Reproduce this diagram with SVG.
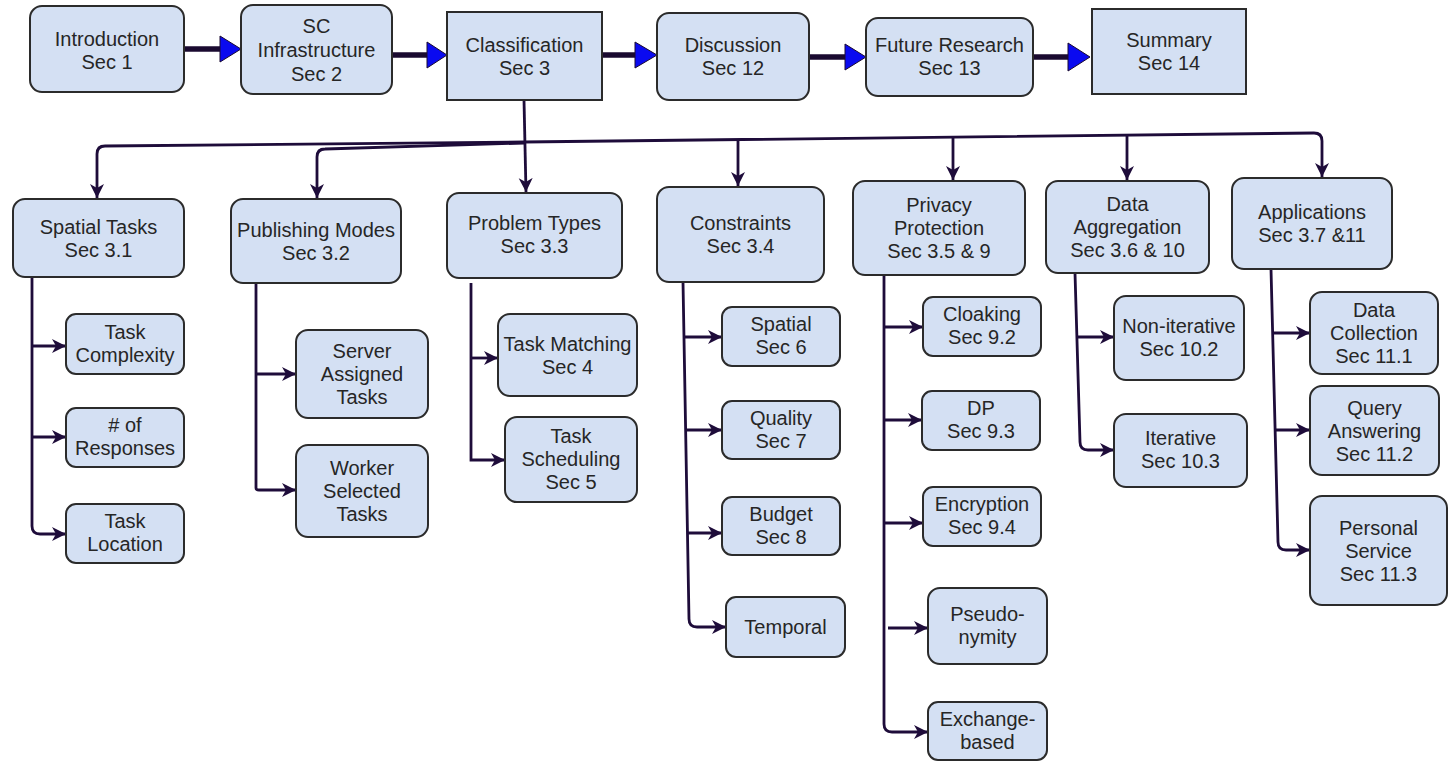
<svg xmlns="http://www.w3.org/2000/svg" width="1450" height="763" viewBox="0 0 1450 763">
<defs>
<marker id="ah" markerUnits="userSpaceOnUse" markerWidth="16" markerHeight="16" refX="14" refY="8" orient="auto">
<path d="M0,1 L14,8 L0,15 L4,8 z" fill="#1e0c3a"/>
</marker>
</defs>
<style>
.n{fill:#d4e0f3;stroke:#2b2b2b;stroke-width:2}
.t{font-family:"Liberation Sans",Arial,sans-serif;font-size:20px;fill:#262626;text-anchor:middle}
.c{fill:none;stroke:#1e0c3a;stroke-width:2.8;marker-end:url(#ah)}
.m{stroke:#1a0a30;stroke-width:5.5}
.h{fill:#0a0af0;stroke:#1a0a30;stroke-width:1}
</style>
<rect width="1450" height="763" fill="#ffffff"/>

<g id="connectors">
<line class="m" x1="184" y1="49" x2="222" y2="49"/><polygon class="h" points="220,36 241,49 220,62"/>
<line class="m" x1="392" y1="55" x2="429" y2="55"/><polygon class="h" points="427,42 447,55 427,68"/>
<line class="m" x1="602" y1="55" x2="637" y2="55"/><polygon class="h" points="635,42 657,55 635,68"/>
<line class="m" x1="809" y1="57" x2="847" y2="57"/><polygon class="h" points="845,44 866,57 845,70"/>
<line class="m" x1="1033" y1="57" x2="1070" y2="57"/><polygon class="h" points="1068,43 1090,57 1068,71"/>
<path class="c" d="M524,100 L526,192"/>
<path class="c" d="M524,142 L105,146 Q97,146 97,154 L97,198"/>
<path class="c" d="M524,143 L325,149 Q317,149 317,157 L317,198"/>
<path class="c" d="M524,142 L1314,133 Q1322,133 1322,141 L1322,177"/>
<path class="c" d="M738,140 L738,186"/>
<path class="c" d="M953,137 L953,180"/>
<path class="c" d="M1127,135 L1127,180"/>
<path class="c" d="M32,277 L32,526 Q32,534 40,534 L66,534"/>
<path class="c" d="M32,346 L66,346"/>
<path class="c" d="M32,437 L66,437"/>
<path class="c" d="M256,283 L256,488 Q256,490 259,490 L296,490"/>
<path class="c" d="M256,374 L296,374"/>
<path class="c" d="M471,283 L471,460 L505,460"/>
<path class="c" d="M471,358 L498,358"/>
<path class="c" d="M683,282 L689,619 Q689,627 697,627 L726,627"/>
<path class="c" d="M684,337 L722,337"/>
<path class="c" d="M685,430 L722,430"/>
<path class="c" d="M687,533 L722,533"/>
<path class="c" d="M884,275 L884,724 Q884,732 892,732 L928,732"/>
<path class="c" d="M884,327 L923,327"/>
<path class="c" d="M884,420 L922,420"/>
<path class="c" d="M884,523 L923,523"/>
<path class="c" d="M888,628 L928,628"/>
<path class="c" d="M1075,273 L1080,442 Q1080,450 1088,450 L1114,450"/>
<path class="c" d="M1077,337 L1114,337"/>
<path class="c" d="M1271,269 L1278,542 Q1278,550 1286,550 L1310,550"/>
<path class="c" d="M1273,333 L1310,333"/>
<path class="c" d="M1275,430 L1310,430"/>
</g>

<g id="n-introduction"><rect class="n" x="30" y="6" width="154" height="86" rx="12"/>
<text class="t"><tspan x="107" y="45.5">Introduction</tspan><tspan x="107" y="68.5">Sec 1</tspan></text></g>
<g id="n-sc-infrastructure"><rect class="n" x="241" y="5" width="151" height="89" rx="12"/>
<text class="t"><tspan x="316.5" y="33">SC</tspan><tspan x="316.5" y="57">Infrastructure</tspan><tspan x="316.5" y="81">Sec 2</tspan></text></g>
<g id="n-classification"><rect class="n" x="447" y="12" width="155" height="88"/>
<text class="t"><tspan x="524.5" y="52">Classification</tspan><tspan x="524.5" y="75">Sec 3</tspan></text></g>
<g id="n-discussion"><rect class="n" x="657" y="13" width="152" height="87" rx="12"/>
<text class="t"><tspan x="733" y="52">Discussion</tspan><tspan x="733" y="75">Sec 12</tspan></text></g>
<g id="n-future-research"><rect class="n" x="866" y="18" width="167" height="78" rx="12"/>
<text class="t"><tspan x="949.5" y="52">Future Research</tspan><tspan x="949.5" y="75">Sec 13</tspan></text></g>
<g id="n-summary"><rect class="n" x="1092" y="9" width="154" height="85"/>
<text class="t"><tspan x="1169" y="47">Summary</tspan><tspan x="1169" y="70">Sec 14</tspan></text></g>

<g id="n-spatial-tasks"><rect class="n" x="13" y="199" width="171" height="78" rx="12"/>
<text class="t"><tspan x="98.5" y="233.5">Spatial Tasks</tspan><tspan x="98.5" y="256.5">Sec 3.1</tspan></text></g>
<g id="n-publishing-modes"><rect class="n" x="231" y="199" width="170" height="84" rx="12"/>
<text class="t"><tspan x="316" y="236.5">Publishing Modes</tspan><tspan x="316" y="259.5">Sec 3.2</tspan></text></g>
<g id="n-problem-types"><rect class="n" x="447" y="193" width="175" height="85" rx="12"/>
<text class="t"><tspan x="534.5" y="230">Problem Types</tspan><tspan x="534.5" y="253">Sec 3.3</tspan></text></g>
<g id="n-constraints"><rect class="n" x="657" y="187" width="167" height="95" rx="12"/>
<text class="t"><tspan x="740.5" y="230">Constraints</tspan><tspan x="740.5" y="253">Sec 3.4</tspan></text></g>
<g id="n-privacy"><rect class="n" x="853" y="181" width="172" height="94" rx="12"/>
<text class="t"><tspan x="939" y="212">Privacy</tspan><tspan x="939" y="235">Protection</tspan><tspan x="939" y="258">Sec 3.5 &amp; 9</tspan></text></g>
<g id="n-data-aggregation"><rect class="n" x="1046" y="181" width="163" height="92" rx="12"/>
<text class="t"><tspan x="1127.5" y="211">Data</tspan><tspan x="1127.5" y="234">Aggregation</tspan><tspan x="1127.5" y="257">Sec 3.6 &amp; 10</tspan></text></g>
<g id="n-applications"><rect class="n" x="1232" y="178" width="160" height="91" rx="12"/>
<text class="t"><tspan x="1312" y="219">Applications</tspan><tspan x="1312" y="242">Sec 3.7 &amp;11</tspan></text></g>

<g id="n-task-complexity"><rect class="n" x="66" y="314" width="118" height="60" rx="10"/>
<text class="t"><tspan x="125" y="339">Task</tspan><tspan x="125" y="362">Complexity</tspan></text></g>
<g id="n-responses"><rect class="n" x="66" y="408" width="118" height="59" rx="10"/>
<text class="t"><tspan x="125" y="432">&#35; of</tspan><tspan x="125" y="455">Responses</tspan></text></g>
<g id="n-task-location"><rect class="n" x="66" y="504" width="118" height="59" rx="10"/>
<text class="t"><tspan x="125" y="528">Task</tspan><tspan x="125" y="551">Location</tspan></text></g>
<g id="n-server-assigned"><rect class="n" x="296" y="330" width="132" height="88" rx="12"/>
<text class="t"><tspan x="362" y="358">Server</tspan><tspan x="362" y="381">Assigned</tspan><tspan x="362" y="404">Tasks</tspan></text></g>
<g id="n-worker-selected"><rect class="n" x="296" y="445" width="132" height="92" rx="12"/>
<text class="t"><tspan x="362" y="475">Worker</tspan><tspan x="362" y="498">Selected</tspan><tspan x="362" y="521">Tasks</tspan></text></g>
<g id="n-task-matching"><rect class="n" x="498" y="314" width="139" height="82" rx="12"/>
<text class="t"><tspan x="567.5" y="351">Task Matching</tspan><tspan x="567.5" y="374">Sec 4</tspan></text></g>
<g id="n-task-scheduling"><rect class="n" x="505" y="417" width="132" height="85" rx="12"/>
<text class="t"><tspan x="571" y="443">Task</tspan><tspan x="571" y="466">Scheduling</tspan><tspan x="571" y="489">Sec 5</tspan></text></g>

<g id="n-c-spatial"><rect class="n" x="722" y="307" width="118" height="59" rx="10"/>
<text class="t"><tspan x="781" y="331">Spatial</tspan><tspan x="781" y="354">Sec 6</tspan></text></g>
<g id="n-quality"><rect class="n" x="722" y="401" width="118" height="58" rx="10"/>
<text class="t"><tspan x="781" y="424.5">Quality</tspan><tspan x="781" y="447.5">Sec 7</tspan></text></g>
<g id="n-budget"><rect class="n" x="722" y="497" width="118" height="58" rx="10"/>
<text class="t"><tspan x="781" y="520.5">Budget</tspan><tspan x="781" y="543.5">Sec 8</tspan></text></g>
<g id="n-temporal"><rect class="n" x="726" y="597" width="119" height="60" rx="10"/>
<text class="t"><tspan x="785.5" y="634">Temporal</tspan></text></g>

<g id="n-cloaking"><rect class="n" x="923" y="297" width="118" height="59" rx="10"/>
<text class="t"><tspan x="982" y="321">Cloaking</tspan><tspan x="982" y="344">Sec 9.2</tspan></text></g>
<g id="n-dp"><rect class="n" x="922" y="391" width="118" height="59" rx="10"/>
<text class="t"><tspan x="981" y="415">DP</tspan><tspan x="981" y="438">Sec 9.3</tspan></text></g>
<g id="n-encryption"><rect class="n" x="923" y="487" width="118" height="59" rx="10"/>
<text class="t"><tspan x="982" y="511">Encryption</tspan><tspan x="982" y="534">Sec 9.4</tspan></text></g>
<g id="n-pseudonymity"><rect class="n" x="928" y="588" width="119" height="76" rx="12"/>
<text class="t"><tspan x="987.5" y="621">Pseudo-</tspan><tspan x="987.5" y="644">nymity</tspan></text></g>
<g id="n-exchange"><rect class="n" x="928" y="702" width="119" height="58" rx="10"/>
<text class="t"><tspan x="987.5" y="725.5">Exchange-</tspan><tspan x="987.5" y="748.5">based</tspan></text></g>

<g id="n-non-iterative"><rect class="n" x="1114" y="296" width="130" height="84" rx="12"/>
<text class="t"><tspan x="1179" y="333">Non-iterative</tspan><tspan x="1179" y="356">Sec 10.2</tspan></text></g>
<g id="n-iterative"><rect class="n" x="1114" y="414" width="133" height="73" rx="12"/>
<text class="t"><tspan x="1180.5" y="445">Iterative</tspan><tspan x="1180.5" y="468">Sec 10.3</tspan></text></g>

<g id="n-data-collection"><rect class="n" x="1310" y="292" width="128" height="82" rx="12"/>
<text class="t"><tspan x="1374" y="317">Data</tspan><tspan x="1374" y="340">Collection</tspan><tspan x="1374" y="363">Sec 11.1</tspan></text></g>
<g id="n-query-answering"><rect class="n" x="1310" y="386" width="129" height="89" rx="12"/>
<text class="t"><tspan x="1374.5" y="414.5">Query</tspan><tspan x="1374.5" y="437.5">Answering</tspan><tspan x="1374.5" y="460.5">Sec 11.2</tspan></text></g>
<g id="n-personal-service"><rect class="n" x="1310" y="496" width="137" height="109" rx="12"/>
<text class="t"><tspan x="1378.5" y="534.5">Personal</tspan><tspan x="1378.5" y="557.5">Service</tspan><tspan x="1378.5" y="580.5">Sec 11.3</tspan></text></g>
</svg>
